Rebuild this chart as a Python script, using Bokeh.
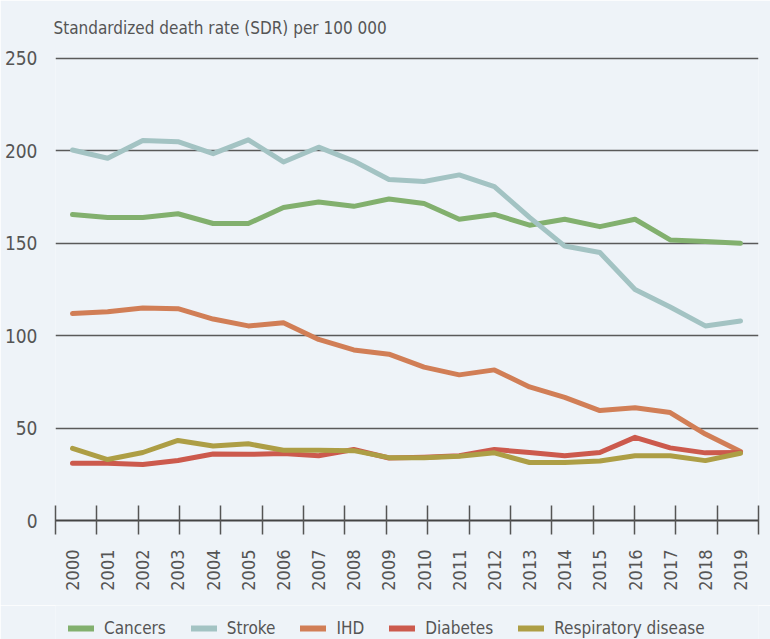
import numpy as np
from bokeh.plotting import figure
from bokeh.layouts import column
from bokeh.models import (FixedTicker, LinearAxis, Range1d, Legend, LegendItem)
from bokeh.embed import file_html
from bokeh.resources import INLINE

years = list(range(2000, 2020))
cancers = [165.6, 164, 164, 166, 160.7, 160.7, 169.4, 172.3, 170, 174, 171.5, 163, 165.6, 159.8, 163, 159, 163, 151.8, 151, 150]
stroke = [200.5, 196, 205.6, 205, 198.5, 206, 194, 202, 194.5, 184.5, 183.4, 187, 180.7, 164, 148.5, 145, 125, 115.5, 105.3, 108]
ihd = [112, 113, 115, 114.6, 109, 105.3, 107, 98, 92.3, 90, 83, 78.8, 81.5, 72.3, 66.6, 59.5, 61, 58.4, 46.8, 37.3]
diabetes = [31, 31, 30.3, 32.5, 36, 35.8, 36.3, 35, 38.4, 33.8, 34.2, 35, 38.4, 36.8, 35, 36.8, 45, 39.3, 36.6, 36.8]
respiratory = [39, 33, 36.8, 43.3, 40.3, 41.5, 38, 38, 37.8, 34, 34, 34.8, 36.6, 31.4, 31.4, 32.2, 35, 35, 32.4, 36.4]

series_names = ["Cancers", "Stroke", "IHD", "Diabetes", "Respiratory disease"]
series_values = [cancers, stroke, ihd, diabetes, respiratory]
series_colors = ["#82b06e", "#a3c3c3", "#d17e56", "#cc5a4d", "#ad9e45"]

y_ticks = [0, 50, 100, 150, 200, 250]
title_text = "Standardized death rate (SDR) per 100 000"

BG = "#eef3f8"
TXT = "#555555"
FONT = "DejaVu Sans Condensed"

x_start, x_end = 1999.5165, 2019.512

p = figure(width=770, height=605, output_backend="svg", toolbar_location=None,
           x_range=Range1d(x_start, x_end), y_range=Range1d(0, 252.7),
           background_fill_color=BG, border_fill_color=BG,
           outline_line_color=None, min_border_left=55, min_border_right=12,
           min_border_top=53, min_border_bottom=85)

p.title.text = title_text
p.title.text_font = FONT
p.title.text_font_size = "17px"
p.title.text_font_style = "normal"
p.title.text_color = TXT
p.title.offset = -2
p.title.vertical_align = "top"
p.title.standoff = 28

# y axis
p.yaxis.ticker = FixedTicker(ticks=y_ticks)
p.yaxis.axis_line_color = None
p.yaxis.major_tick_line_color = None
p.yaxis.minor_tick_line_color = None
p.yaxis.major_label_text_font = FONT
p.yaxis.major_label_text_font_size = "19px"
p.yaxis.major_label_text_color = TXT
p.yaxis.major_label_text_baseline = "alphabetic"
p.yaxis.major_label_standoff = 12

p.ygrid.ticker = FixedTicker(ticks=y_ticks)
p.ygrid.grid_line_color = "#5a5a5a"
p.ygrid.grid_line_width = 1.5
p.xgrid.grid_line_color = None

# x axis: tick marks (evenly spread over frame)
tick_marks = list(np.linspace(x_start + 0.002, x_end - 0.002, 18))
xa = p.xaxis[0]
xa.ticker = FixedTicker(ticks=tick_marks)
xa.axis_line_color = "#444444"
xa.axis_line_width = 2
xa.major_tick_line_color = "#555555"
xa.major_tick_line_width = 1.5
xa.major_tick_in = 15
xa.major_tick_out = 14
xa.minor_tick_line_color = None
xa.major_label_text_font_size = "1px"
xa.major_label_text_alpha = 0
xa.major_label_standoff = 0

# x axis: year labels
lab_axis = LinearAxis(ticker=FixedTicker(ticks=years),
                      major_label_overrides={y: str(y) for y in years})
lab_axis.axis_line_color = None
lab_axis.major_tick_line_color = None
lab_axis.minor_tick_line_color = None
lab_axis.major_tick_in = 0
lab_axis.major_tick_out = 0
lab_axis.major_label_orientation = np.pi / 2
lab_axis.major_label_text_font = FONT
lab_axis.major_label_text_font_size = "18px"
lab_axis.major_label_text_color = TXT
lab_axis.major_label_standoff = 15
p.add_layout(lab_axis, "below")

for name, vals, col in zip(series_names, series_values, series_colors):
    p.line(years, vals, line_color=col, line_width=5, line_cap="round", line_join="round")

# legend strip (same series, drawn outside its own visible range)
lg = figure(width=770, height=34, output_backend="svg", toolbar_location=None,
            x_range=Range1d(0, 1), y_range=Range1d(0, 1),
            x_axis_location=None, y_axis_location=None,
            background_fill_color=BG, border_fill_color=BG, outline_line_color=None,
            min_border_left=25, min_border_right=0, min_border_top=0, min_border_bottom=0)
lg.grid.visible = False
items = []
for name, vals, col in zip(series_names, series_values, series_colors):
    r = lg.line(years, vals, line_color=col, line_width=6, line_cap="round")
    items.append(LegendItem(label=name, renderers=[r]))
legend = Legend(items=items, orientation="horizontal", location="top_left",
                background_fill_alpha=0, border_line_color=None,
                label_text_font=FONT, label_text_font_size="17px", label_text_color=TXT,
                glyph_width=26, glyph_height=20, label_standoff=10, spacing=25,
                padding=0, margin=13)
lg.add_layout(legend, "center")

layout = column(p, lg, spacing=0)
html = file_html(layout, INLINE)
open("out.html", "w").write(html)
